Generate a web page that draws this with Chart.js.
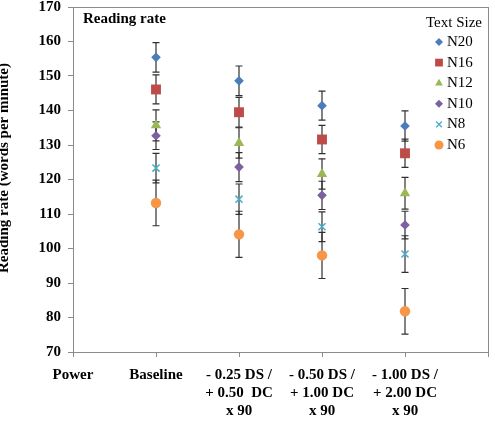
<!DOCTYPE html>
<html lang="en">
<head>
  <meta charset="UTF-8">
  <title>Reading rate</title>
  <script src="https://cdn.jsdelivr.net/npm/chart.js"></script>
  <style>
    body { margin: 0; background: #ffffff; }
    #wrap { width: 495px; height: 436px; position: relative; }
  </style>
</head>
<body>
  <div id="wrap"><canvas id="chart"></canvas></div>

  <script>
    // x positions: 0 = "Power" (axis origin), 1..4 = conditions
    const xLabels = ['Power', 'Baseline',
      ['- 0.25 DS /', '+ 0.50  DC', 'x 90'],
      ['- 0.50 DS /', '+ 1.00 DC', 'x 90'],
      ['- 1.00 DS /', '+ 2.00 DC', 'x 90']];
    const xPositions = [1, 2, 3, 4];

    const seriesNames = ['N20', 'N16', 'N12', 'N10', 'N8', 'N6'];
    const n20 = [155.4, 148.6, 141.4, 135.5];
    const n16 = [146.1, 139.5, 131.6, 127.6];
    const n12 = [135.7, 130.6, 121.6, 116.0];
    const n10 = [132.7, 123.6, 115.4, 106.8];
    const n8  = [123.3, 114.3, 106.3, 98.4];
    const n6  = [113.2, 104.1, 98.0, 81.8];

    const err20 = [4.3, 4.3, 4.2, 4.4];
    const err16 = [4.2, 4.3, 4.1, 4.1];
    const err12 = [4.5, 4.4, 4.4, 4.6];
    const err10 = [4.0, 4.2, 4.1, 4.0];
    const err8  = [4.3, 4.4, 4.3, 5.3];
    const err6  = [6.6, 6.7, 6.7, 6.6];

    const yTicks = [70, 80, 90, 100, 110, 120, 130, 140, 150, 160, 170];

    const seriesValues = [n20, n16, n12, n10, n8, n6];
    const seriesErrors = [err20, err16, err12, err10, err8, err6];
    const colors = ['#4a7ebb', '#be4b48', '#98b954', '#7d60a0', '#4bacc6', '#f79646'];
    const shapes = ['rectRot', 'rect', 'triangle', 'rectRot', 'crossRot', 'circle'];
    const sizes = [4.8, 7, 6, 4.8, 5, 5.2];
    const legendSizes = [4, 5.5, 4.5, 4, 4, 4.5];

    const serif = "'Liberation Serif', 'Times New Roman', serif";
    const axisGrey = '#8c8c8c';

    const datasets = seriesNames.map((name, i) => ({
      label: name,
      data: seriesValues[i].map((v, j) => ({ x: xPositions[j], y: v })),
      errors: seriesErrors[i],
      backgroundColor: colors[i],
      borderColor: colors[i],
      borderWidth: shapes[i] === 'crossRot' ? 1.5 : 0,
      pointStyle: shapes[i],
      pointRadius: sizes[i],
      pointHoverRadius: sizes[i]
    }));

    // error bars, drawn under the markers
    const errorBars = {
      id: 'errorBars',
      beforeDatasetsDraw(chart) {
        const ctx = chart.ctx;
        const xs = chart.scales.x, ys = chart.scales.y;
        ctx.save();
        ctx.strokeStyle = '#303030';
        ctx.lineWidth = 1.2;
        chart.data.datasets.forEach(ds => {
          ds.data.forEach((p, j) => {
            const e = ds.errors[j];
            const x = xs.getPixelForValue(p.x);
            const top = ys.getPixelForValue(p.y + e);
            const bot = ys.getPixelForValue(p.y - e);
            ctx.beginPath();
            ctx.moveTo(x, top); ctx.lineTo(x, bot);
            ctx.moveTo(x - 3.5, top); ctx.lineTo(x + 3.5, top);
            ctx.moveTo(x - 3.5, bot); ctx.lineTo(x + 3.5, bot);
            ctx.stroke();
          });
        });
        ctx.restore();
      }
    };

    // inner title, y title and legend
    const decorations = {
      id: 'decorations',
      afterDraw(chart) {
        const ctx = chart.ctx;
        const a = chart.chartArea;
        ctx.save();
        ctx.fillStyle = '#000';
        ctx.font = 'bold 15px ' + serif;
        ctx.textAlign = 'left';
        ctx.textBaseline = 'middle';
        ctx.fillText('Reading rate', a.left + 10, 19);

        ctx.save();
        ctx.translate(8, 168);
        ctx.rotate(-Math.PI / 2);
        ctx.textAlign = 'center';
        ctx.textBaseline = 'alphabetic';
        ctx.fillText('Reading rate (words per minute)', 0, 0);
        ctx.restore();

        ctx.font = '15px ' + serif;
        ctx.textAlign = 'center';
        ctx.textBaseline = 'middle';
        ctx.fillText('Text Size', 454, 23);
        ctx.textAlign = 'left';
        seriesNames.forEach((name, i) => {
          const y = 42 + i * 20.6;
          ctx.fillStyle = '#000';
          ctx.fillText(name, 447, y);
          ctx.fillStyle = colors[i];
          ctx.strokeStyle = colors[i];
          ctx.lineWidth = 1.3;
          Chart.helpers.drawPoint(ctx, {
            pointStyle: shapes[i],
            radius: legendSizes[i],
            borderWidth: shapes[i] === 'crossRot' ? 1.3 : 0,
            rotation: 0
          }, 439, y);
        });
        ctx.restore();
      }
    };

    // empty axes on top and right give the frame line
    const frameAxis = (position) => ({
      position: position,
      min: 0,
      max: 1,
      ticks: { display: false },
      grid: { display: false },
      border: { display: true, color: axisGrey },
      afterFit(scale) {
        if (scale.isHorizontal()) scale.height = 0; else scale.width = 0;
        scale.paddingTop = scale.paddingBottom = scale.paddingLeft = scale.paddingRight = 0;
      }
    });

    new Chart(document.getElementById('chart'), {
      type: 'scatter',
      data: { datasets: datasets },
      options: {
        responsive: true,
        maintainAspectRatio: false,
        animation: false,
        layout: { padding: { top: 3, right: 0, left: 0, bottom: 0 } },
        plugins: {
          legend: { display: false },
          tooltip: { enabled: false }
        },
        scales: {
          x: {
            type: 'linear',
            min: 0,
            max: 5,
            afterBuildTicks(scale) {
              scale.ticks = [0, 1, 2, 3, 4, 5].map(v => ({ value: v }));
            },
            ticks: {
              autoSkip: false,
              maxRotation: 0,
              padding: 9,
              color: '#000',
              font: { family: serif, size: 15, weight: 'bold', lineHeight: 1.2 },
              callback: v => xLabels[v] !== undefined ? xLabels[v] : ''
            },
            grid: { drawOnChartArea: false, color: axisGrey, tickLength: 5 },
            border: { color: axisGrey },
            afterFit(scale) {
              scale.height = 84;
              scale.paddingLeft = 0;
              scale.paddingRight = 0;
            }
          },
          y: {
            min: 70,
            max: 170,
            afterBuildTicks(scale) {
              scale.ticks = yTicks.map(v => ({ value: v }));
            },
            ticks: {
              padding: 7,
              color: '#000',
              font: { family: serif, size: 15, weight: 'bold' }
            },
            grid: { drawOnChartArea: false, color: axisGrey, tickLength: 5 },
            border: { color: axisGrey },
            afterFit(scale) {
              scale.width = 73;
              scale.paddingTop = 0;
              scale.paddingBottom = 0;
            }
          },
          xTop: frameAxis('top'),
          yRight: frameAxis('right')
        }
      },
      plugins: [errorBars, decorations]
    });
  </script>
</body>
</html>
